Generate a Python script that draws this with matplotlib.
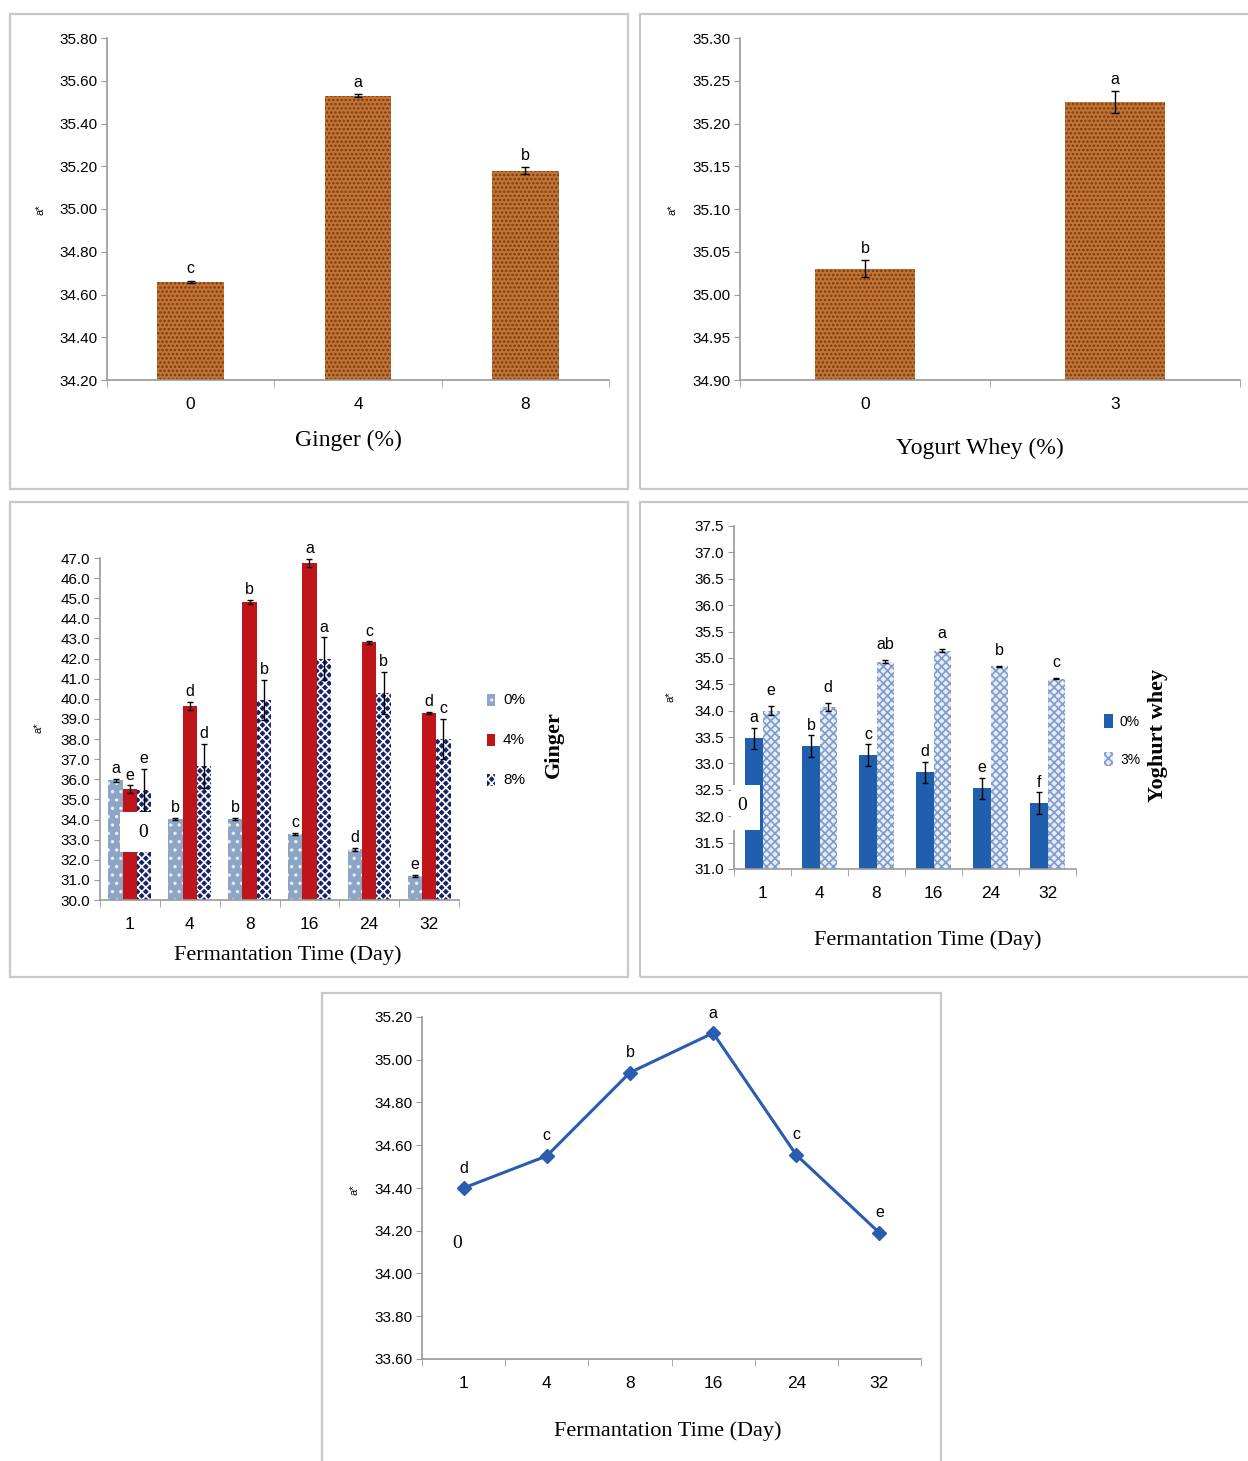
import numpy as np
import matplotlib.pyplot as plt
from matplotlib.patches import Rectangle

W, H = 1248, 1461

# ---- data ----
ginger_levels = ['0', '4', '8']
ginger_a = [34.66, 35.53, 35.18]
ginger_err = [0.005, 0.008, 0.015]
ginger_let = ['c', 'a', 'b']

whey_levels = ['0', '3']
whey_a = [35.03, 35.225]
whey_err = [0.010, 0.013]
whey_let = ['b', 'a']

days = ['1', '4', '8', '16', '24', '32']

g0 = [35.95, 34.02, 34.05, 33.28, 32.52, 31.20]
g0_err = [0.06, 0.05, 0.05, 0.05, 0.06, 0.05]
g0_let = ['a', 'b', 'b', 'c', 'd', 'e']
g4 = [35.50, 39.65, 44.80, 46.75, 42.80, 39.30]
g4_err = [0.20, 0.20, 0.10, 0.20, 0.05, 0.05]
g4_let = ['e', 'd', 'b', 'a', 'c', 'd']
g8 = [35.45, 36.65, 39.95, 42.00, 40.30, 38.00]
g8_err = [1.05, 1.10, 1.00, 1.05, 1.05, 1.00]
g8_let = ['e', 'd', 'b', 'a', 'b', 'c']

w0 = [33.48, 33.33, 33.16, 32.83, 32.53, 32.25]
w0_err = [0.20, 0.20, 0.20, 0.20, 0.20, 0.20]
w0_let = ['a', 'b', 'c', 'd', 'e', 'f']
w3 = [34.00, 34.07, 34.93, 35.14, 34.84, 34.61]
w3_err = [0.08, 0.07, 0.03, 0.03, 0.01, 0.01]
w3_let = ['e', 'd', 'ab', 'a', 'b', 'c']

time_a = [34.40, 34.55, 34.94, 35.125, 34.555, 34.19]
time_let = ['d', 'c', 'b', 'a', 'c', 'e']

# ---- style ----
TICKFONT = ['Liberation Sans Narrow', 'Liberation Sans', 'DejaVu Sans']
SERIF = ['Liberation Serif', 'DejaVu Serif']
plt.rcParams['font.family'] = TICKFONT
plt.rcParams['hatch.linewidth'] = 1.2
AX_GREY = '#9a9a9a'

fig = plt.figure(figsize=(W / 100, H / 100), dpi=100)


def box(l, t, r, b):
    return [l / W, 1 - b / H, (r - l) / W, (b - t) / H]


def ftext(x, y, s, **kw):
    fig.text(x / W, 1 - y / H, s, **kw)


def frect(l, t, r, b, **kw):
    fig.patches.append(Rectangle((l / W, 1 - b / H), (r - l) / W, (b - t) / H,
                                 transform=fig.transFigure, **kw))


def frame(l, t, r, b):
    frect(l, t, r, b, fill=False, edgecolor='#c8c8c8', lw=1.6)


def style_axes(ax, n, ylim, yticks, fmt):
    ax.set_xlim(-0.5, n - 0.5)
    ax.set_ylim(*ylim)
    ax.set_yticks(yticks)
    ax.set_yticklabels([fmt.format(v) for v in yticks], fontsize=11)
    ax.set_xticks(range(n))
    ax.tick_params(axis='x', length=0, pad=12, labelsize=12.5)
    ax.set_xticks(np.arange(-0.5, n, 1.0), minor=True)
    ax.tick_params(axis='x', which='minor', length=5, color=AX_GREY)
    ax.tick_params(axis='y', length=4, color=AX_GREY, pad=3)
    for s in ['top', 'right']:
        ax.spines[s].set_visible(False)
    for s in ['left', 'bottom']:
        ax.spines[s].set_color(AX_GREY)
        ax.spines[s].set_linewidth(1.2)


def letters(ax, xs, tops, labs, dy=3):
    for x, t, l in zip(xs, tops, labs):
        ax.annotate(l, (x, t), xytext=(0, dy), textcoords='offset points',
                    ha='center', va='bottom', fontsize=11.5)


# panel frames
frame(10, 14, 628, 489)
frame(640, 14, 1250, 489)
frame(10, 502, 628, 977)
frame(640, 502, 1250, 977)
frame(322, 993, 941, 1463)

# ---- top left: ginger ----
ax1 = fig.add_axes(box(107, 38, 609, 380))
x = np.arange(len(ginger_levels))
ax1.bar(x, ginger_a, width=0.4, color='#c27434', edgecolor='#7a3a12',
        hatch='....', linewidth=0)
ax1.errorbar(x, ginger_a, yerr=ginger_err, fmt='none', ecolor='black',
             capsize=3, lw=1)
style_axes(ax1, 3, (34.2, 35.8), np.arange(34.2, 35.81, 0.2), '{:.2f}')
ax1.set_xticklabels(ginger_levels)
letters(ax1, x, np.array(ginger_a) + np.array(ginger_err), ginger_let)
ftext(348, 440, 'Ginger (%)', family=SERIF, fontsize=17, ha='center', va='center')
ftext(41, 210, 'a*', fontsize=8, rotation=90, ha='center', va='center')

# ---- top right: yogurt whey ----
ax2 = fig.add_axes(box(740, 38, 1240, 380))
x = np.arange(len(whey_levels))
ax2.bar(x, whey_a, width=0.4, color='#c27434', edgecolor='#7a3a12',
        hatch='....', linewidth=0)
ax2.errorbar(x, whey_a, yerr=whey_err, fmt='none', ecolor='black',
             capsize=3, lw=1)
style_axes(ax2, 2, (34.9, 35.3), np.arange(34.9, 35.301, 0.05), '{:.2f}')
ax2.set_xticklabels(whey_levels)
letters(ax2, x, np.array(whey_a) + np.array(whey_err), whey_let)
ftext(980, 448, 'Yogurt Whey (%)', family=SERIF, fontsize=17, ha='center', va='center')
ftext(672, 210, 'a*', fontsize=8, rotation=90, ha='center', va='center')

# ---- middle left: ginger x time ----
ax3 = fig.add_axes(box(100, 558, 459, 900))
x = np.arange(len(days))
bw = 0.24
ser = [(g0, g0_err, g0_let, dict(color='#8ea6c6', edgecolor='#e8eef6', hatch='..')),
       (g4, g4_err, g4_let, dict(color='#c0141b')),
       (g8, g8_err, g8_let, dict(color='#16236a', edgecolor='white', hatch='xxxx'))]
for i, (v, e, lab, kw) in enumerate(ser):
    xs = x + (i - 1) * bw
    ax3.bar(xs, v, width=bw, linewidth=0, **kw)
    ax3.errorbar(xs, v, yerr=e, fmt='none', ecolor='black', capsize=2.5, lw=1)
    letters(ax3, xs, np.array(v) + np.array(e), lab, dy=2)
style_axes(ax3, 6, (30, 47), np.arange(30, 47.1, 1), '{:.1f}')
ax3.set_xticklabels(days)
ftext(288, 955, 'Fermantation Time (Day)', family=SERIF, fontsize=16, ha='center', va='center')
ftext(38, 728, 'a*', fontsize=8, rotation=90, ha='center', va='center')
leg3 = [('0%', dict(facecolor='#8ea6c6', edgecolor='#e8eef6', hatch='..')),
        ('4%', dict(facecolor='#c0141b')),
        ('8%', dict(facecolor='#16236a', edgecolor='white', hatch='xxxx'))]
for k, (lab, kw) in enumerate(leg3):
    yy = 700 + 40 * k
    frect(487, yy - 6, 495, yy + 6, linewidth=0, **kw)
    ftext(503, yy, lab, fontsize=11, va='center')
ftext(554, 745, 'Ginger', family=SERIF, fontsize=16, fontweight='bold',
      rotation=90, ha='center', va='center')
frect(120, 812, 152, 852, facecolor='white', edgecolor='none', zorder=5)
ftext(143, 832, '0', family=SERIF, fontsize=14, ha='center', va='center', zorder=6)

# ---- middle right: whey x time ----
ax4 = fig.add_axes(box(734, 526, 1076, 869))
bw = 0.3
ax4.bar(x - bw / 2, w0, width=bw, color='#1f5fae', linewidth=0)
ax4.errorbar(x - bw / 2, w0, yerr=w0_err, fmt='none', ecolor='black', capsize=2.5, lw=1)
ax4.bar(x + bw / 2, w3, width=bw, color='#e6edf6', edgecolor='#7f9ccc',
        hatch='xxxx', linewidth=0)
ax4.errorbar(x + bw / 2, w3, yerr=w3_err, fmt='none', ecolor='black', capsize=2.5, lw=1)
letters(ax4, x - bw / 2, np.array(w0) + np.array(w0_err), w0_let, dy=2)
letters(ax4, x + bw / 2, np.array(w3) + np.array(w3_err), w3_let, dy=6)
style_axes(ax4, 6, (31, 37.5), np.arange(31, 37.51, 0.5), '{:.1f}')
ax4.set_xticklabels(days)
ftext(928, 940, 'Fermantation Time (Day)', family=SERIF, fontsize=16, ha='center', va='center')
ftext(670, 697, 'a*', fontsize=8, rotation=90, ha='center', va='center')
frect(1104, 714, 1113, 728, facecolor='#1f5fae', linewidth=0)
ftext(1120, 722, '0%', fontsize=10, va='center')
frect(1104, 752, 1113, 766, facecolor='#e6edf6', edgecolor='#7f9ccc',
      hatch='xxxx', linewidth=0)
ftext(1120, 760, '3%', fontsize=10, va='center')
ftext(1158, 735, 'Yoghurt whey', family=SERIF, fontsize=16, fontweight='bold',
      rotation=90, ha='center', va='center')
frect(731, 785, 760, 830, facecolor='white', edgecolor='none', zorder=5)
ftext(742, 805, '0', family=SERIF, fontsize=14, ha='center', va='center', zorder=6)

# ---- bottom: time line ----
ax5 = fig.add_axes(box(422, 1017, 921, 1359))
ax5.plot(x, time_a, color='#2a5caf', lw=2.2, marker='D', markersize=7)
style_axes(ax5, 6, (33.6, 35.2), np.arange(33.6, 35.21, 0.2), '{:.2f}')
ax5.set_xticklabels(days)
letters(ax5, x, time_a, time_let, dy=9)
ftext(668, 1431, 'Fermantation Time (Day)', family=SERIF, fontsize=16, ha='center', va='center')
ftext(354, 1190, 'a*', fontsize=8, rotation=90, ha='center', va='center')
ftext(457, 1244, '0', family=SERIF, fontsize=14, ha='center', va='center')

fig.savefig('out.png', dpi=100)
